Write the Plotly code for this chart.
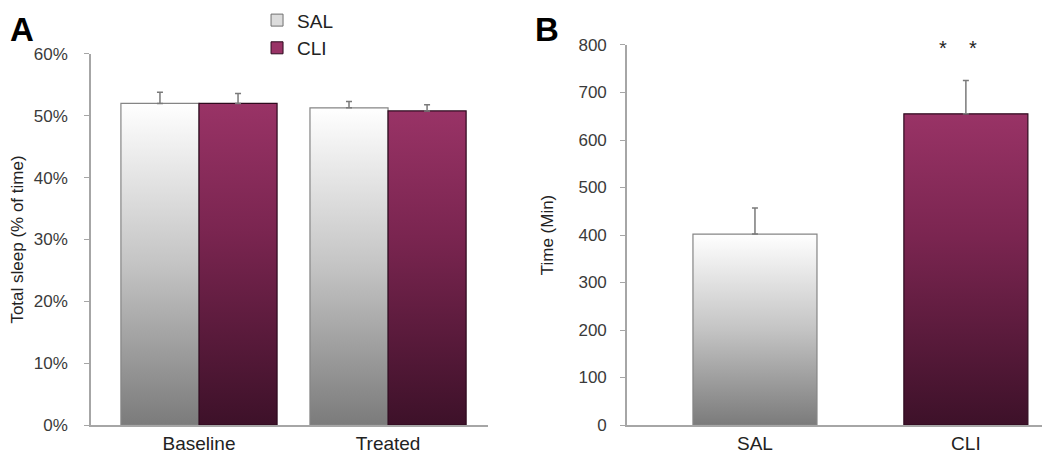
import plotly.graph_objects as go

# ---- data ----
groups_a = ["Baseline", "Treated"]
sal_a = [52.0, 51.3]
cli_a = [52.0, 50.8]
sal_a_err = [1.8, 1.0]
cli_a_err = [1.6, 1.0]

groups_b = ["SAL", "CLI"]
vals_b = [402, 655]
err_b = [55, 70]

series_names = ["SAL", "CLI"]
y_ticks_a = [0, 10, 20, 30, 40, 50, 60]
y_labels_a = [f"{v}%" for v in y_ticks_a]
y_ticks_b = [0, 100, 200, 300, 400, 500, 600, 700, 800]

# ---- styles ----
SAL_SCALE = [[0, "#7b7b7b"], [0.5, "#c4c4c4"], [1, "#ffffff"]]
CLI_SCALE = [[0, "#3d1129"], [0.6, "#7a2550"], [1, "#993366"]]
SAL_LINE = "#858585"
CLI_LINE = "#2e0a1e"
AXIS_COL = "#a6a6a6"
FONT = "Liberation Sans, Arial, sans-serif"

fig = go.Figure()


def bar_poly(x0, x1, v, scale, line, xa, ya):
    fig.add_trace(go.Scatter(
        x=[x0, x1, x1, x0, x0], y=[0, 0, v, v, 0],
        mode="lines", fill="toself",
        fillgradient=dict(type="vertical", colorscale=scale, start=0, stop=v),
        line=dict(color=line, width=1.2),
        xaxis=xa, yaxis=ya, showlegend=False, hoverinfo="skip",
    ))


# legend entries
legend_fill = ["#dcdcdc", "#993366"]
legend_line = ["#707070", CLI_LINE]
for name, fc, lc in zip(series_names, legend_fill, legend_line):
    fig.add_trace(go.Bar(x=[None], y=[None], name=name,
                         marker=dict(color=fc, line=dict(color=lc, width=1)),
                         xaxis="x", yaxis="y", showlegend=True))

# Panel A
wa = 0.413
for i, g in enumerate(groups_a):
    bar_poly(i - wa, i, sal_a[i], SAL_SCALE, SAL_LINE, "x", "y")
    bar_poly(i, i + wa, cli_a[i], CLI_SCALE, CLI_LINE, "x", "y")

fig.add_trace(go.Scatter(
    x=[i - wa / 2 for i in range(len(groups_a))] + [i + wa / 2 for i in range(len(groups_a))],
    y=sal_a + cli_a, mode="markers", marker=dict(opacity=0),
    error_y=dict(type="data", symmetric=False, array=sal_a_err + cli_a_err,
                 arrayminus=[0] * 4, color="#7a7a7a", thickness=1.5, width=3),
    xaxis="x", yaxis="y", showlegend=False, hoverinfo="skip"))

# Panel B
wb = 0.588
scales_b = [SAL_SCALE, CLI_SCALE]
lines_b = [SAL_LINE, CLI_LINE]
for i, g in enumerate(groups_b):
    bar_poly(i - wb / 2, i + wb / 2, vals_b[i], scales_b[i], lines_b[i], "x2", "y2")

fig.add_trace(go.Scatter(
    x=list(range(len(groups_b))), y=vals_b, mode="markers", marker=dict(opacity=0),
    error_y=dict(type="data", symmetric=False, array=err_b, arrayminus=[0, 0],
                 color="#7a7a7a", thickness=1.5, width=3),
    xaxis="x2", yaxis="y2", showlegend=False, hoverinfo="skip"))

tickfont = dict(family=FONT, size=17, color="#3a3a3a")
xtickfont = dict(family=FONT, size=19, color="#222")
titlefont = dict(family=FONT, size=17, color="#222")

fig.update_layout(
    width=1042, height=450,
    margin=dict(l=0, r=0, t=0, b=0, autoexpand=False),
    paper_bgcolor="white", plot_bgcolor="white",
    font=dict(family=FONT, color="#333"),
    barmode="overlay",
    xaxis=dict(domain=[0.0797, 0.4607], range=[-0.571, 1.529],
               tickvals=list(range(len(groups_a))), ticktext=groups_a,
               showline=True, linecolor=AXIS_COL, linewidth=1.5, ticks="",
               showgrid=False, zeroline=False, tickfont=xtickfont),
    yaxis=dict(domain=[0.0733, 0.8978], range=[0, 60], tickvals=y_ticks_a, ticktext=y_labels_a,
               showline=True, linecolor=AXIS_COL, linewidth=1.5, ticks="outside",
               ticklen=5, tickcolor=AXIS_COL, showgrid=False, zeroline=False,
               tickfont=tickfont, ticklabelstandoff=13,
               title=dict(text="Total sleep (% of time)", font=titlefont, standoff=22)),
    xaxis2=dict(domain=[0.594, 0.998], range=[-0.607, 1.389],
                tickvals=list(range(len(groups_b))), ticktext=groups_b,
                showline=True, linecolor=AXIS_COL, linewidth=1.5, ticks="",
                showgrid=False, zeroline=False, tickfont=xtickfont),
    yaxis2=dict(domain=[0.0733, 0.9178], range=[0, 800], tickvals=y_ticks_b,
                anchor="x2", showline=True, linecolor=AXIS_COL, linewidth=1.5, ticks="outside",
                ticklen=5, tickcolor=AXIS_COL, showgrid=False, zeroline=False,
                tickfont=tickfont, ticklabelstandoff=10,
                title=dict(text="Time (Min)", font=titlefont, standoff=20)),
    legend=dict(x=0.239, y=1.015, xanchor="left", yanchor="top",
                font=dict(family=FONT, size=19, color="#222"),
                bgcolor="rgba(0,0,0,0)", tracegroupgap=3, itemwidth=30,
                traceorder="normal"),
    annotations=[
        dict(text="<b>A</b>", x=0, y=0.998, xref="paper", yref="paper",
             xanchor="left", yanchor="top", showarrow=False,
             font=dict(family=FONT, size=33, color="black")),
        dict(text="<b>B</b>", x=0.504, y=0.998, xref="paper", yref="paper",
             xanchor="left", yanchor="top", showarrow=False,
             font=dict(family=FONT, size=33, color="black")),
        dict(text="*&nbsp;&nbsp;&nbsp;&nbsp;*", x=1, y=vals_b[1] + err_b[1] + 72, xref="x2", yref="y2",
             showarrow=False, xshift=-8, yshift=-2, font=dict(family=FONT, size=20, color="#222")),
    ],
)

fig.write_html("out.html")
